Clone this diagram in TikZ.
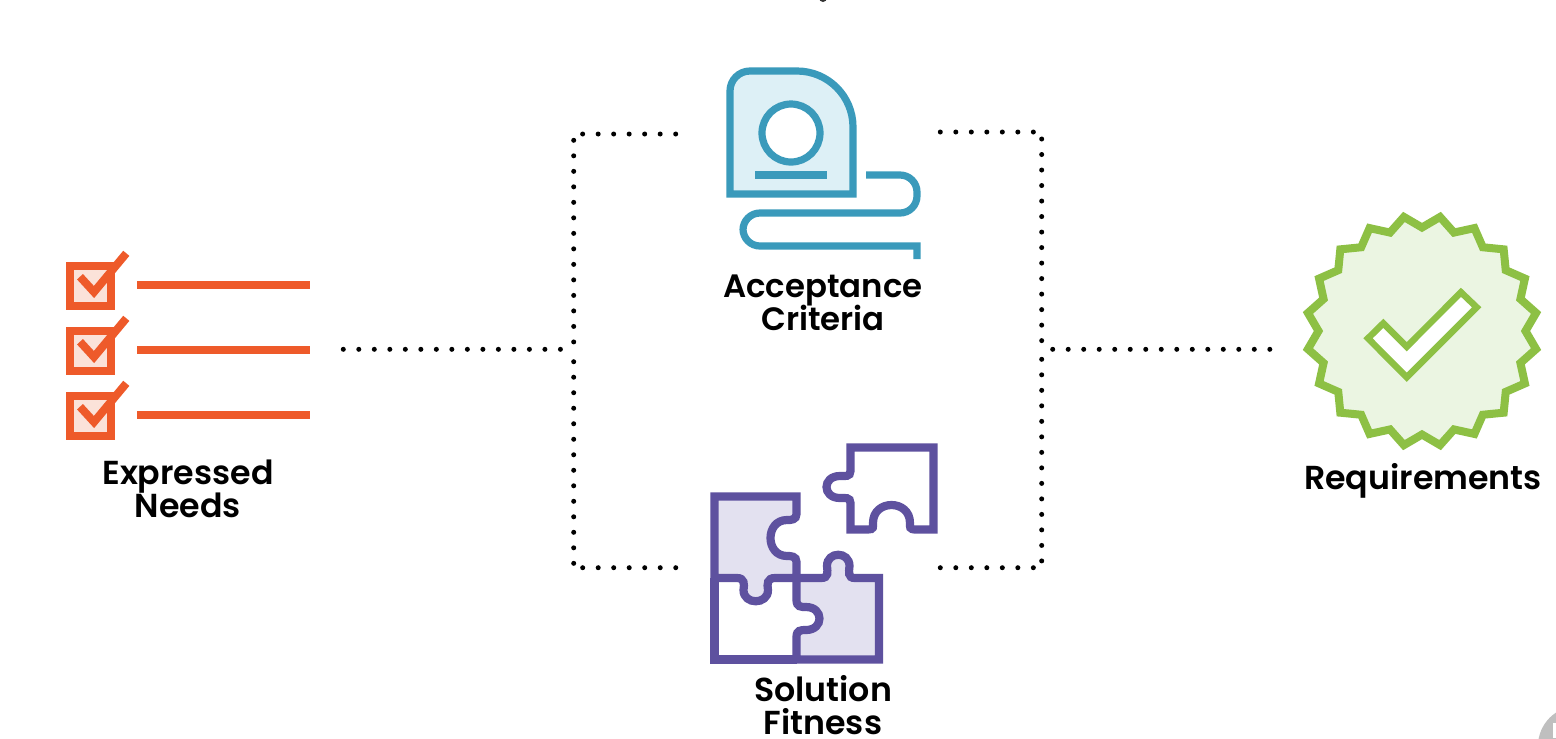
\documentclass[tikz,border=0pt]{standalone}
\usepackage{fontspec}
\setmainfont{Poppins SemiBold}
\definecolor{needsred}{HTML}{EE5A2A}
\definecolor{needslight}{HTML}{FBE2D9}
\definecolor{tapeblue}{HTML}{3A9ABB}
\definecolor{tapelight}{HTML}{DDF0F6}
\definecolor{puzzlepurple}{HTML}{5E519F}
\definecolor{puzzlelight}{HTML}{E3E1F0}
\definecolor{badgegreen}{HTML}{8DC044}
\definecolor{badgelight}{HTML}{EBF5E2}
\tikzset{
  dots/.style={line width=0.5mm,line cap=round,dash pattern=on 0pt off 1.55mm},
  label/.style={font=\fontsize{9.45}{9.4}\selectfont\lineskiplimit-5pt,align=center,text=black,inner sep=0pt},
  needsline/.style={draw=needsred,line width=0.8mm},
  tapeline/.style={draw=tapeblue,line width=0.72mm},
  puzzleline/.style={draw=puzzlepurple,line width=0.82mm,line join=miter},
  badgeline/.style={draw=badgegreen,line width=0.8mm,line join=miter}
}
\begin{document}
\begin{tikzpicture}[x=0.01cm,y=-0.01cm]
  \useasboundingbox (0,0) rectangle (1556,738);
  \fill[white] (0,0) rectangle (1556,738);
  % connector ends
  \coordinate (needsout) at (343.3,349.3);
  \coordinate (joinleft) at (561,349.3);
  \coordinate (joinright) at (1052.7,349.3);
  \coordinate (badgein) at (1270,349.3);
  \coordinate (tapeleft) at (675.7,134);
  \coordinate (tapeleftend) at (582,134);
  \coordinate (leftupper) at (573.7,140.3);
  \coordinate (leftupperend) at (573.7,342.5);
  \coordinate (leftlower) at (573.7,361.7);
  \coordinate (leftlowerend) at (573.7,564);
  \coordinate (puzzleleft) at (582.7,567.7);
  \coordinate (puzzleleftend) at (676.5,567.7);
  \coordinate (taperight) at (940.3,132);
  \coordinate (taperightend) at (1034,132);
  \coordinate (rightupper) at (1041.7,139);
  \coordinate (rightupperend) at (1041.7,342);
  \coordinate (rightlower) at (1041.7,359.3);
  \coordinate (rightlowerend) at (1041.7,561.5);
  \coordinate (puzzleright) at (940.3,567.7);
  \coordinate (puzzlerightend) at (1034,567.7);
  \draw[dots] (needsout) -- (joinleft);
  \draw[dots] (joinright) -- (badgein);
  \draw[dots] (tapeleft) -- (tapeleftend);
  \draw[dots] (leftupper) -- (leftupperend);
  \draw[dots] (leftlower) -- (leftlowerend);
  \draw[dots] (puzzleleft) -- (puzzleleftend);
  \draw[dots] (taperight) -- (taperightend);
  \draw[dots] (rightupper) -- (rightupperend);
  \draw[dots] (rightlower) -- (rightlowerend);
  \draw[dots] (puzzleright) -- (puzzlerightend);
  % expressed needs
  \foreach \row in {0,65,130} {
    \begin{scope}[yshift=-\row*0.01cm]
      \draw[needsline,fill=needslight] (70,266) rectangle (111,306);
      \draw[needsline] (80,276.7) -- (94,292) -- (126.3,253.3);
      \draw[needsline] (137,285) -- (310,285);
    \end{scope}
  }
  \node[label] (needslabel) at (188,489) {Expressed\\Needs};
  % acceptance criteria
  \draw[tapeline,fill=tapelight] (730,194) [rounded corners=2mm] -- (730,71)
    [rounded corners=5.6mm] -- (853,71) [sharp corners] -- (853,194) -- cycle;
  \draw[tapeline,fill=white] (791,133) circle (29);
  \draw[tapeline] (755,175) -- (827,175);
  \draw[tapeline,rounded corners=1.7mm] (866,175) -- (917,175) -- (917,213) -- (743,213)
    -- (743,246) [sharp corners] -- (917,246) -- (917,259);
  \node[label,font=\fontsize{9.2}{9.4}\selectfont\lineskiplimit-5pt] (tapelabel) at (823,303) {Acceptance\\Criteria};
  % solution fitness
  \fill[white] (714.5,578) rectangle (796.5,659.5);
  \draw[puzzleline] (714.5,578) -- (714.5,659.5) -- (796.5,659.5);
  \draw[puzzleline,fill=puzzlelight] (714.5,578) -- (714.5,496.5) -- (796.5,496.5) -- (796.5,514)
    .. controls (796.5,520) and (791,520) .. (787,520)
    .. controls (765,520) and (765,556) .. (787,556)
    .. controls (791,556) and (796.5,556) .. (796.5,562) -- (796.5,578)
    -- (775,578) .. controls (767,578) and (767,584) .. (768,590)
    .. controls (768,605) and (743.5,605) .. (743.5,590)
    .. controls (744.5,584) and (744.5,578) .. (737,578) -- cycle;
  \draw[puzzleline,fill=puzzlelight] (796.5,578) -- (821,578)
    .. controls (829,578) and (827.5,572) .. (827,566)
    .. controls (827,551) and (849.5,551) .. (849.5,566)
    .. controls (849,572) and (847.5,578) .. (855,578)
    -- (879,578) -- (879,659.5) -- (796.5,659.5) -- (796.5,637)
    .. controls (796.5,630) and (801,630) .. (806,630)
    .. controls (824,630) and (824,607) .. (806,607)
    .. controls (801,607) and (796.5,607) .. (796.5,600) -- cycle;
  \draw[puzzleline,fill=white] (850.5,447.5) -- (933.5,447.5) -- (933.5,529.5) -- (916,529.5)
    .. controls (909,529.5) and (910,527) .. (910,523)
    .. controls (910,499) and (873,499) .. (873,523)
    .. controls (873,527) and (874,529.5) .. (868,529.5)
    -- (850.5,529.5) -- (850.5,503)
    .. controls (850.5,497) and (845,498) .. (840,498)
    .. controls (822,498) and (822,476) .. (840,476)
    .. controls (845,476) and (850.5,477) .. (850.5,471) -- cycle;
  \node[label] (puzzlelabel) at (823,705) {Solution\\Fitness};
  % requirements
  \begin{scope}[shift={(1422,331)}]
    \draw[badgeline,fill=badgelight] (0:103.5)
      \foreach \angle in {0,18,...,342} { -- (\angle+9:115.5) -- (\angle+18:103.5) } -- cycle;
  \end{scope}
  \draw[badgeline,line width=0.65mm,fill=white] (1368,338.3) -- (1383.3,323.3) -- (1406.7,346.7)
    -- (1461,292.3) -- (1476.7,307.3) -- (1406.7,377.3) -- cycle;
  \node[label] (badgelabel) at (1423,481) {Requirements};
  % corner of the page
  \begin{scope}
    \clip (0,0) rectangle (1556,738);
    \fill[black!25] (1578,746) circle (40);
    \fill[white] (1553,723) rectangle (1556,738);
    \fill[black!80] (823,-2) circle (4);
  \end{scope}
\end{tikzpicture}
\end{document}
